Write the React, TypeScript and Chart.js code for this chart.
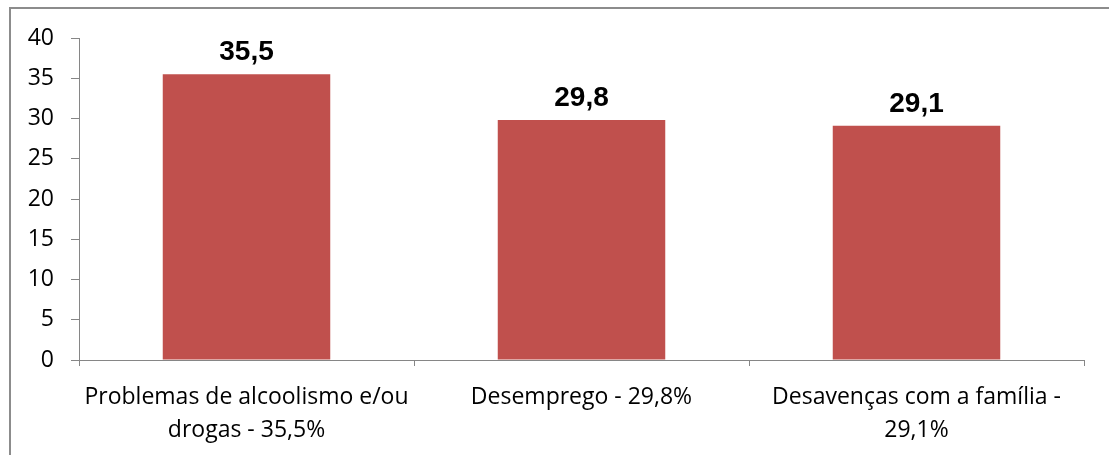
import React, { useEffect, useRef } from "react";
import { Chart, registerables } from "chart.js";

Chart.register(...registerables);

const categories: string[][] = [
  ["Problemas de alcoolismo e/ou", "drogas - 35,5%"],
  ["Desemprego - 29,8%"],
  ["Desavenças com a família -", "29,1%"],
];
const values: number[] = [35.5, 29.8, 29.1];
const valueLabels: string[] = ["35,5", "29,8", "29,1"];

const AXIS = "#868686";
const FONT = "'Open Sans', sans-serif";

const dataLabelPlugin = {
  id: "dataLabels",
  afterDatasetsDraw(chart: any) {
    const ctx = chart.ctx;
    const meta = chart.getDatasetMeta(0);
    ctx.save();
    ctx.font = "bold 28px 'Liberation Sans', Arial, sans-serif";
    ctx.fillStyle = "#000";
    ctx.textAlign = "center";
    ctx.textBaseline = "alphabetic";
    meta.data.forEach((bar: any, i: number) => {
      ctx.fillText(valueLabels[i], bar.x, bar.y - 14);
    });
    ctx.restore();
  },
};

export default function App() {
  const ref = useRef<HTMLCanvasElement>(null);
  useEffect(() => {
    document.body.style.overflow = "hidden";
    const chart = new Chart(ref.current!, {
      type: "bar",
      data: {
        labels: categories,
        datasets: [
          {
            data: values,
            backgroundColor: "#C0504D",
            categoryPercentage: 1,
            barPercentage: 0.5,
          },
        ],
      },
      options: {
        animation: false,
        responsive: false,
        layout: { padding: { left: 0, right: 25, top: 38, bottom: 0 } },
        plugins: { legend: { display: false }, tooltip: { enabled: false } },
        scales: {
          x: {
            afterFit: (s: any) => {
              s.height = 95;
            },
            grid: {
              display: true,
              drawOnChartArea: false,
              drawTicks: true,
              tickLength: 6,
              color: AXIS,
              offset: true,
            },
            border: { display: true, color: AXIS },
            ticks: {
              color: "#000",
              padding: 15,
              maxRotation: 0,
              autoSkip: false,
              font: { family: FONT, size: 23, lineHeight: 1.43 },
            },
          },
          y: {
            min: 0,
            max: 40,
            afterFit: (s: any) => {
              s.width = 79;
            },
            grid: {
              display: true,
              drawOnChartArea: false,
              drawTicks: true,
              tickLength: 8,
              color: AXIS,
            },
            border: { display: true, color: AXIS },
            ticks: {
              stepSize: 5,
              color: "#000",
              padding: 17,
              font: { family: FONT, size: 23 },
            },
          },
        },
      },
      plugins: [dataLabelPlugin],
    });
    return () => chart.destroy();
  }, []);
  return (
    <div style={{ position: "fixed", left: 0, top: 0, width: 1109, height: 455 }}>
      <div
        style={{
          position: "absolute",
          left: 9,
          top: 7,
          width: 1200,
          height: 600,
          borderLeft: "2px solid #8c8c8c",
          borderTop: "2px solid #8c8c8c",
        }}
      />
      <canvas
        ref={ref}
        width={1109}
        height={455}
        style={{ position: "absolute", left: 0, top: 0 }}
      />
    </div>
  );
}
